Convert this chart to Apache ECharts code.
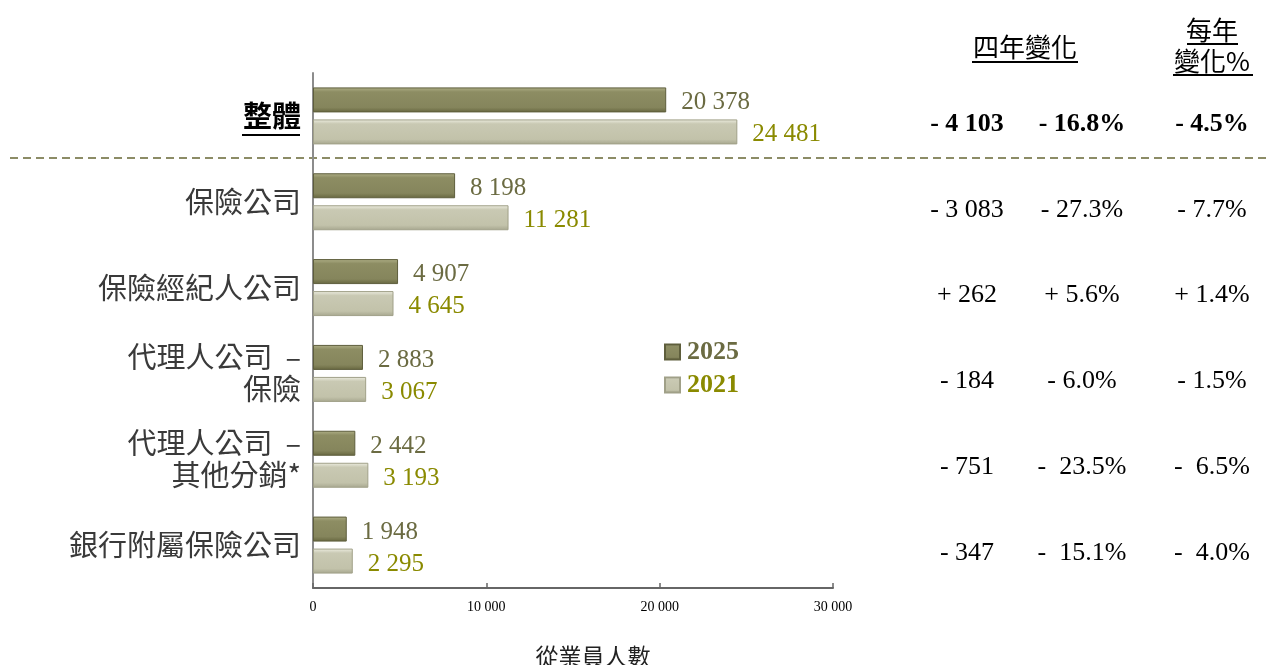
<!DOCTYPE html>
<html><head><meta charset="utf-8">
<script src="https://cdn.jsdelivr.net/npm/echarts@6/dist/echarts.min.js"></script>
<style>html,body{margin:0;padding:0;background:#fff}#c{width:1266px;height:665px}</style>
</head><body><div id="c"></div>
<script>
const categories = ['整體','保險公司','保險經紀人公司','代理人公司  –\n保險','代理人公司  –\n其他分銷*','銀行附屬保險公司'];
const v2025 = [20378, 8198, 4907, 2883, 2442, 1948];
const v2021 = [24481, 11281, 4645, 3067, 3193, 2295];
const change4 = ['- 4 103','- 3 083','+ 262','- 184','- 751','- 347'];
const change4pct = ['- 16.8%','- 27.3%','+ 5.6%','- 6.0%','-  23.5%','-  15.1%'];
const annualPct = ['- 4.5%','- 7.7%','+ 1.4%','- 1.5%','-  6.5%','-  4.0%'];
const xTicks = [0, 10000, 20000, 30000];

const SERIF = '"Liberation Serif","Times New Roman",serif';
const CJK = '"Noto Sans CJK TC","Noto Sans CJK SC",sans-serif';
const fmt = v => String(v).replace(/\B(?=(\d{3})+(?!\d))/g, ' ');

const chart = echarts.init(document.getElementById('c'));
const gridTop = 73, gridBottom = 77, gridH = 665 - gridTop - gridBottom;
const band = gridH / categories.length;
const rowY = i => gridTop + band * (i + 0.5);

const darkGrad = new echarts.graphic.LinearGradient(0,0,0,1,[
  {offset:0,color:'#b0b088'},{offset:0.18,color:'#8d8d63'},{offset:0.8,color:'#85855c'},{offset:1,color:'#66663f'}]);
const lightGrad = new echarts.graphic.LinearGradient(0,0,0,1,[
  {offset:0,color:'#eeeee2'},{offset:0.18,color:'#c9c9b3'},{offset:0.8,color:'#c2c2aa'},{offset:1,color:'#a6a68e'}]);

const graphics = [];
graphics.push({type:'line', shape:{x1:10,y1:158,x2:1266,y2:158}, style:{stroke:'#8c8c66',lineWidth:2,lineDash:[8,5]}});
graphics.push({type:'line', shape:{x1:242,y1:135,x2:300,y2:135}, style:{stroke:'#000',lineWidth:2}});
graphics.push({type:'text', x:1025, y:47, style:{text:'四年變化', font:'26px '+CJK, fill:'#000', textAlign:'center', textVerticalAlign:'middle'}});
graphics.push({type:'line', shape:{x1:972,y1:62,x2:1078,y2:62}, style:{stroke:'#000',lineWidth:2}});
graphics.push({type:'text', x:1212, y:30, style:{text:'每年', font:'26px '+CJK, fill:'#000', textAlign:'center', textVerticalAlign:'middle'}});
graphics.push({type:'line', shape:{x1:1187,y1:44,x2:1238,y2:44}, style:{stroke:'#000',lineWidth:2}});
graphics.push({type:'text', x:1212, y:61, style:{text:'變化%', font:'26px '+CJK, fill:'#000', textAlign:'center', textVerticalAlign:'middle'}});
graphics.push({type:'line', shape:{x1:1173,y1:75,x2:1253,y2:75}, style:{stroke:'#000',lineWidth:2}});
for (let i = 0; i < categories.length; i++) {
  const y = rowY(i) + 8;
  const f = (i === 0 ? 'bold ' : '') + '26px ' + SERIF;
  graphics.push({type:'text', x:967, y:y, style:{text:change4[i], font:f, fill:'#000', textAlign:'center', textVerticalAlign:'middle'}});
  graphics.push({type:'text', x:1082, y:y, style:{text:change4pct[i], font:f, fill:'#000', textAlign:'center', textVerticalAlign:'middle'}});
  graphics.push({type:'text', x:1212, y:y, style:{text:annualPct[i], font:f, fill:'#000', textAlign:'center', textVerticalAlign:'middle'}});
}
graphics.push({type:'text', x:593, y:656, style:{text:'從業員人數', font:'23px '+CJK, fill:'#222', textAlign:'center', textVerticalAlign:'middle'}});

chart.setOption({
  animation:false,
  backgroundColor:'#fff',
  grid:{left:313, right:433, top:gridTop, bottom:gridBottom, containLabel:false},
  legend:{
    orient:'vertical', left:659, top:334, itemWidth:15, itemHeight:15, itemGap:7, icon:'rect',
    data:[
      {name:'2025', textStyle:{color:'#6b6b42'}},
      {name:'2021', textStyle:{color:'#8a8a00'}}
    ],
    textStyle:{fontFamily:SERIF, fontSize:26, fontWeight:'bold', padding:[0,0,0,2]}
  },
  xAxis:{
    type:'value', min:xTicks[0], max:xTicks[xTicks.length-1], interval:10000,
    axisLine:{show:true, lineStyle:{color:'#666', width:2}},
    axisTick:{show:true, inside:true, length:5, lineStyle:{color:'#666', width:1.5}},
    splitLine:{show:false},
    axisLabel:{formatter:v=>fmt(v), fontFamily:SERIF, fontSize:14, color:'#000', margin:12}
  },
  yAxis:{
    type:'category', data:categories, inverse:true,
    axisLine:{show:true, lineStyle:{color:'#8c8c8c', width:2}},
    axisTick:{show:false},
    axisLabel:{
      margin:12, fontFamily:CJK, fontSize:29, color:'#3a3a3a', lineHeight:32, align:'right',
      formatter:v => v === '整體' ? '{b|整體}' : v,
      rich:{b:{fontFamily:CJK, fontSize:29, fontWeight:'bold', color:'#000'}}
    }
  },
  series:[
    {name:'2025', type:'bar', data:v2025, barWidth:25, barGap:'28%',
     itemStyle:{color:darkGrad, borderColor:'#5e5e3c', borderWidth:1},
     label:{show:true, position:'right', distance:15, offset:[0,3], formatter:p=>fmt(p.value), fontFamily:SERIF, fontSize:25, color:'#6b6b42'}},
    {name:'2021', type:'bar', data:v2021, barWidth:25,
     itemStyle:{color:lightGrad, borderColor:'#a0a088', borderWidth:1},
     label:{show:true, position:'right', distance:15, offset:[0,3], formatter:p=>fmt(p.value), fontFamily:SERIF, fontSize:25, color:'#8a8a00'}}
  ],
  graphic:graphics
});
</script></body></html>
